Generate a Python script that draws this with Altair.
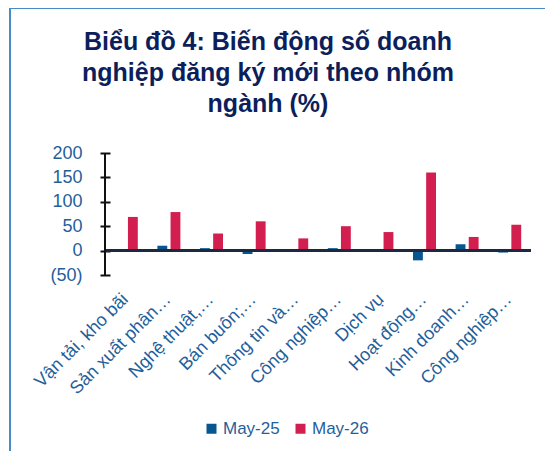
import altair as alt
import pandas as pd

labels = ["Vận tải, kho bãi", "Sản xuất phân…", "Nghệ thuật,…", "Bán buôn;…",
          "Thông tin và…", "Công nghiệp…", "Dịch vụ", "Hoạt động…",
          "Kinh doanh…", "Công nghiệp…"]
series = ["May-25", "May-26"]
may25 = [3, 10, 5, -7, 2, 5, 2, -20, 13, -4]
may26 = [69, 79, 35, 60, 25, 50, 38, 160, 28, 53]
colors = ["#07568f", "#d31f50"]
y_ticks = [-50, 0, 50, 100, 150, 200]

rows = []
for i, lab in enumerate(labels):
    rows.append({"idx": i, "label": lab, "series": series[0], "value": may25[i]})
    rows.append({"idx": i, "label": lab, "series": series[1], "value": may26[i]})
df = pd.DataFrame(rows)

FONT = "Liberation Sans"
LBL = "#1f5f9b"
label_arr = "[" + ",".join("'" + l + "'" for l in labels) + "]"

W, H = 426, 122
ydom = [-50, 200]

bars = alt.Chart(df).mark_bar().encode(
    x=alt.X("idx:O", title=None,
            scale=alt.Scale(paddingInner=0.46, paddingOuter=0.23),
            axis=alt.Axis(labelExpr=label_arr + "[datum.value]", labelAngle=-45,
                          domain=False, ticks=False, labelPadding=15, labelOffset=-7,
                          labelColor=LBL, labelFontSize=18, labelFont=FONT,
                          labelLimit=300, labelOverlap=False)),
    xOffset=alt.XOffset("series:N", scale=alt.Scale(paddingInner=0.25, paddingOuter=0)),
    y=alt.Y("value:Q", title=None,
            scale=alt.Scale(domain=ydom, nice=False, zero=False),
            axis=alt.Axis(values=y_ticks, offset=-5, tickSize=10, tickWidth=2,
                          tickColor="#111111", domain=False, grid=False,
                          labelOverlap=False, labelBound=False, labelFlush=False,
                          labelPadding=18, labelColor=LBL, labelFontSize=18,
                          labelFont=FONT,
                          labelExpr="datum.value < 0 ? '(' + abs(datum.value) + ')' : datum.label")),
    color=alt.Color("series:N", scale=alt.Scale(domain=series, range=colors),
                    legend=alt.Legend(orient="none", legendX=98, legendY=267,
                                      direction="horizontal", title=None,
                                      symbolType="square", symbolSize=100,
                                      symbolStrokeWidth=0, labelOffset=3,
                                      columnPadding=12,
                                      labelFontSize=17, labelColor=LBL, labelFont=FONT)),
)

zero = alt.Chart(df).mark_rule(color="#1d2841", strokeWidth=2.5).encode(
    y=alt.Y(datum=0, scale=alt.Scale(domain=ydom, nice=False, zero=False), axis=None)
)

yline = alt.Chart(df).mark_rule(color="#111111", strokeWidth=2).encode(
    x=alt.value(0), y=alt.value(0), y2=alt.value(H)
)

frame_top = alt.Chart(df).mark_rule(color="#4a8ac8", strokeWidth=1.5).encode(
    x=alt.value(-95), x2=alt.value(460), y=alt.value(-145)
)
frame_left = alt.Chart(df).mark_rule(color="#4a8ac8", strokeWidth=1.5).encode(
    x=alt.value(-95), y=alt.value(-145), y2=alt.value(310)
)

chart = alt.layer(bars, zero, yline, frame_top, frame_left).resolve_scale(
    y="independent"
).resolve_axis(y="independent").properties(
    width=W, height=H,
    autosize=alt.AutoSizeParams(type="none"),
    padding={"left": 97, "top": 145, "right": 14, "bottom": 176},
    title=alt.TitleParams(
        ["Biểu đồ 4: Biến động số doanh", "nghiệp đăng ký mới theo nhóm", "ngành (%)"],
        fontSize=25, fontWeight="bold", color="#0c1f5b", font=FONT,
        anchor="middle", dx=-50, dy=140, offset=30, lineHeight=31),
).configure_view(stroke=None)

chart.save("out.html", embed_options={"renderer": "svg", "actions": False})
